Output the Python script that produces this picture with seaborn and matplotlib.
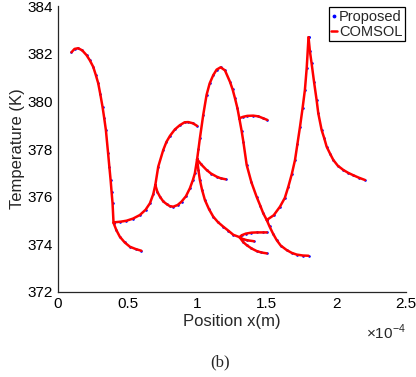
import matplotlib
matplotlib.use("Agg")
import matplotlib.pyplot as plt
from matplotlib.lines import Line2D
import pandas as pd
import seaborn as sns

# temperature along each channel segment, x in units of 1e-4 m
seg_a_x = [0.098, 0.12, 0.146, 0.175, 0.206, 0.23, 0.254, 0.272, 0.29, 0.305, 0.321, 0.333, 0.345, 0.361, 0.37, 0.379, 0.386, 0.393, 0.40]
seg_a_t = [382.06, 382.2, 382.23, 382.14, 381.94, 381.72, 381.45, 381.12, 380.76, 380.3, 379.77, 379.3, 378.8, 377.82, 377.25, 376.7, 376.2, 375.72, 374.9]

seg_b_x = [0.40, 0.42, 0.445, 0.48, 0.517, 0.56, 0.60]
seg_b_t = [374.9, 374.6, 374.32, 374.08, 373.9, 373.8, 373.73]

seg_c_x = [0.40, 0.45, 0.493, 0.54, 0.589, 0.63, 0.661, 0.685, 0.70]
seg_c_t = [374.92, 374.95, 374.99, 375.08, 375.23, 375.45, 375.72, 376.1, 376.49]

seg_d_x = [0.70, 0.721, 0.757, 0.78, 0.805, 0.84, 0.876, 0.91, 0.936, 0.97, 1.0]
seg_d_t = [376.49, 377.26, 377.96, 378.3, 378.55, 378.82, 379.0, 379.12, 379.13, 379.08, 378.97]

seg_e_x = [0.70, 0.715, 0.733, 0.757, 0.781, 0.805, 0.829, 0.86, 0.888, 0.92, 0.948, 0.97, 0.984, 1.0]
seg_e_t = [376.49, 376.2, 376.0, 375.8, 375.69, 375.6, 375.58, 375.65, 375.79, 376.02, 376.35, 376.7, 376.98, 377.57]

seg_f_x = [1.0, 1.01, 1.02, 1.044, 1.068, 1.09, 1.116, 1.14, 1.169, 1.20, 1.236, 1.255, 1.272, 1.29, 1.303]
seg_f_t = [377.57, 378.0, 378.45, 379.43, 380.27, 380.75, 381.1, 381.33, 381.43, 381.3, 380.82, 380.5, 380.13, 379.7, 379.29]

seg_g_x = [1.303, 1.32, 1.332, 1.356, 1.39, 1.427, 1.455, 1.475, 1.50]
seg_g_t = [379.29, 378.75, 378.31, 377.33, 376.6, 376.0, 375.6, 375.3, 375.02]

seg_h_x = [1.303, 1.33, 1.36, 1.403, 1.44, 1.47, 1.504]
seg_h_t = [379.29, 379.35, 379.39, 379.4, 379.37, 379.3, 379.22]

seg_i_x = [1.0, 1.03, 1.068, 1.10, 1.14, 1.17, 1.205]
seg_i_t = [377.57, 377.35, 377.12, 376.97, 376.84, 376.77, 376.73]

seg_j_x = [1.0, 1.01, 1.02, 1.035, 1.056, 1.085, 1.116, 1.15, 1.188, 1.225, 1.26, 1.305]
seg_j_t = [377.57, 377.1, 376.7, 376.3, 375.86, 375.48, 375.16, 374.93, 374.74, 374.57, 374.4, 374.3]

seg_k_x = [1.305, 1.32, 1.35, 1.39, 1.43, 1.47, 1.50]
seg_k_t = [374.3, 374.38, 374.45, 374.49, 374.5, 374.5, 374.5]

seg_l_x = [1.305, 1.33, 1.36, 1.408]
seg_l_t = [374.3, 374.22, 374.17, 374.13]

seg_m_x = [1.305, 1.33, 1.355, 1.39, 1.427, 1.46, 1.50]
seg_m_t = [374.3, 374.1, 373.97, 373.83, 373.72, 373.66, 373.62]

seg_n_x = [1.50, 1.55, 1.595, 1.63, 1.655, 1.68, 1.703, 1.72, 1.739, 1.757, 1.774, 1.787, 1.80]
seg_n_t = [375.02, 375.22, 375.58, 375.95, 376.42, 376.95, 377.54, 378.2, 378.94, 379.7, 380.48, 381.4, 382.69]

seg_o_x = [1.50, 1.52, 1.545, 1.571, 1.60, 1.643, 1.68, 1.715, 1.76, 1.80]
seg_o_t = [375.02, 374.75, 374.45, 374.18, 373.95, 373.76, 373.64, 373.57, 373.53, 373.52]

seg_p_x = [1.80, 1.81, 1.822, 1.84, 1.858, 1.87, 1.894, 1.913, 1.93, 1.955, 1.978, 2.01, 2.05, 2.085, 2.121, 2.16, 2.205]
seg_p_t = [382.69, 382.1, 381.6, 380.8, 380.06, 379.5, 378.8, 378.45, 378.1, 377.8, 377.54, 377.3, 377.12, 377.0, 376.9, 376.8, 376.7]

segments = {
    "A": (seg_a_x, seg_a_t), "B": (seg_b_x, seg_b_t), "C": (seg_c_x, seg_c_t),
    "D": (seg_d_x, seg_d_t), "E": (seg_e_x, seg_e_t), "F": (seg_f_x, seg_f_t),
    "G": (seg_g_x, seg_g_t), "H": (seg_h_x, seg_h_t), "I": (seg_i_x, seg_i_t),
    "J": (seg_j_x, seg_j_t), "K": (seg_k_x, seg_k_t), "L": (seg_l_x, seg_l_t),
    "M": (seg_m_x, seg_m_t), "N": (seg_n_x, seg_n_t), "O": (seg_o_x, seg_o_t),
    "P": (seg_p_x, seg_p_t),
}

rows = []
for name, (xs, ts) in segments.items():
    for order, (x, t) in enumerate(zip(xs, ts)):
        rows.append({"seg": name, "order": order, "x": x, "T": t})
df = pd.DataFrame(rows)

sns.set_style("white")
plt.rcParams["font.family"] = ["Liberation Sans", "DejaVu Sans"]
plt.rcParams["mathtext.fontset"] = "custom"
plt.rcParams["mathtext.rm"] = "Liberation Sans"

fig = plt.figure(figsize=(4.16, 3.77), dpi=100)
ax = fig.add_axes([0.139, 0.2255, 0.837, 0.7585])

# proposed solution as small blue dots, COMSOL as red line on top
sns.scatterplot(data=df, x="x", y="T", color="blue", s=3.5, linewidth=0,
                ax=ax, zorder=2, legend=False)
sns.lineplot(data=df, x="x", y="T", units="seg", estimator=None, sort=False,
             color="red", linewidth=1.8, ax=ax, zorder=3, legend=False)

ax.set_xlim(0, 2.5)
ax.set_ylim(372, 384)
ax.set_xticks([0, 0.5, 1, 1.5, 2, 2.5])
ax.set_xticklabels(["0", "0.5", "1", "1.5", "2", "2.5"])
ax.set_yticks([372, 374, 376, 378, 380, 382, 384])
ax.tick_params(direction="in", length=4, width=0.8, labelsize=11, colors="#262626")
for tl in ax.get_xticklabels() + ax.get_yticklabels():
    tl.set_color("black")
sns.despine(ax=ax)
for sp in ["left", "bottom"]:
    ax.spines[sp].set_color("#262626")
    ax.spines[sp].set_linewidth(0.9)

ax.set_xlabel("Position x(m)", fontsize=12, labelpad=2)
ax.set_ylabel("Temperature (K)", fontsize=12, labelpad=2)

ax.text(1.0, -0.14, r"$\times$10$^{-4}$", transform=ax.transAxes,
        ha="right", va="center", fontsize=11)

handles = [
    Line2D([], [], marker=".", color="blue", linestyle="none", markersize=3.5),
    Line2D([], [], color="red", linewidth=1.8),
]
leg = ax.legend(handles, ["Proposed", "COMSOL"], loc="upper right",
                bbox_to_anchor=(1.0, 1.0), fontsize=10.5, frameon=True,
                fancybox=False, edgecolor="black", framealpha=1,
                handlelength=0.4, handletextpad=0.15, borderpad=0.15,
                labelspacing=0.1, borderaxespad=0.1)
leg.get_frame().set_linewidth(0.9)

fig.text(0.529, 0.04, "(b)", family=["Liberation Serif", "DejaVu Serif"],
         fontsize=12, ha="center", va="center")

fig.savefig("out.png", dpi=100)
